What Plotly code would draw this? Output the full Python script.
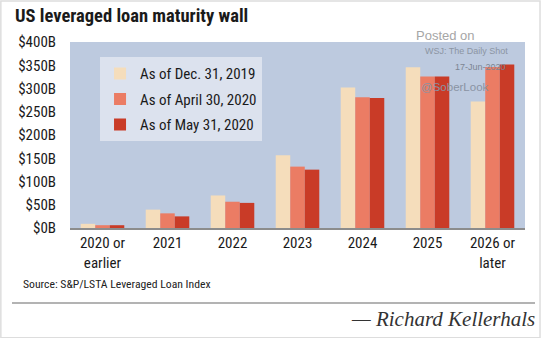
import plotly.graph_objects as go

categories = ["2020 or<br>earlier", "2021", "2022", "2023", "2024", "2025", "2026 or<br>later"]
dec_2019 = [9, 39.5, 70, 156.5, 302, 345.5, 272]
apr_2020 = [6, 31.5, 56.5, 132, 281, 326, 346]
may_2020 = [6, 25, 54, 125.5, 279.5, 326, 351.5]
series_names = ["As of Dec. 31, 2019", "As of April 30, 2020", "As of May 31, 2020"]
colors = ["#F5DDBB", "#EB7C64", "#C93B27"]
y_ticks = [0, 50, 100, 150, 200, 250, 300, 350, 400]

FONT = "Roboto Condensed, Liberation Sans, Arial, sans-serif"
WM = "Liberation Sans, Arial, sans-serif"

fig = go.Figure()
for i, (name, vals) in enumerate(zip(series_names, [dec_2019, apr_2020, may_2020])):
    fig.add_trace(go.Bar(x=categories, y=vals, name=name, marker_color=colors[i],
                         marker_line_width=0, legendgroup=f"g{i}"))

fig.update_layout(
    width=541, height=338,
    margin=dict(l=70, r=16, t=42, b=110),
    paper_bgcolor="white", plot_bgcolor="#BDCADF",
    barmode="group", bargap=0.33, bargroupgap=0,
    font=dict(family=FONT, color="#1a1a1a", size=15),
    showlegend=True,
    legend=dict(x=0.066, y=0.918, xanchor="left", yanchor="top",
                bgcolor="#DCE2EE", borderwidth=0, font=dict(size=15, family=FONT, color="#1a1a1a"),
                tracegroupgap=3, itemwidth=30),
    xaxis=dict(showgrid=False, showline=True, linecolor="#8c8c8c", linewidth=2,
               ticks="", tickfont=dict(size=15, family=FONT), range=[-0.5, 6.5]),
    yaxis=dict(range=[0, 400], tickvals=y_ticks, ticktext=[f"${v}B" for v in y_ticks],
               showgrid=False, zeroline=False, ticks="", ticklabelstandoff=13,
               tickfont=dict(size=15, family=FONT)),
)

fig.add_annotation(xref="paper", yref="paper", x=-0.126, y=1.14, xanchor="left", yanchor="middle",
                   text="<b>US leveraged loan maturity wall</b>", showarrow=False,
                   font=dict(size=18.5, family=FONT, color="#1a1a1a"))
# watermark
fig.add_annotation(xref="paper", yref="paper", x=0.826, y=1.0376, xanchor="center", yanchor="middle",
                   text="Posted on", showarrow=False, font=dict(size=13, family=WM, color="#a6a6a6"))
fig.add_annotation(xref="paper", yref="paper", x=0.8725, y=0.9516, xanchor="center", yanchor="middle",
                   text="WSJ: The Daily Shot", showarrow=False, font=dict(size=9, family=WM, color="#8c95a3"))
fig.add_annotation(xref="paper", yref="paper", x=0.962, y=0.8656, xanchor="right", yanchor="middle",
                   text="17-Jun-2020", showarrow=False, font=dict(size=9, family=WM, color="#7c8593"))
fig.add_annotation(xref="paper", yref="paper", x=0.846, y=0.758, xanchor="center", yanchor="middle",
                   text="@SoberLook", showarrow=False, font=dict(size=11.5, family=WM, color="#8a93a3"))
# source
fig.add_annotation(xref="paper", yref="paper", x=-0.108, y=-0.301, xanchor="left", yanchor="middle",
                   text="Source: S&P/LSTA Leveraged Loan Index", showarrow=False,
                   font=dict(size=11.7, family=FONT, color="#222"))
# separator line
fig.add_shape(type="line", xref="paper", yref="paper", x0=-0.1275, x1=1.022, y0=-0.403, y1=-0.403,
              line=dict(color="#9a9a9a", width=1.5))
# author
fig.add_annotation(xref="paper", yref="paper", x=1.026, y=-0.489, xanchor="right", yanchor="middle",
                   text="<i>— Richard Kellerhals</i>", showarrow=False,
                   font=dict(size=21, family="Liberation Serif, Times New Roman, serif", color="#333"))
# outer border
fig.add_shape(type="rect", xref="paper", yref="paper", x0=-0.152, x1=1.033, y0=-0.59, y1=1.22,
              line=dict(color="#dddddd", width=1.5))

fig.write_html("out.html")
